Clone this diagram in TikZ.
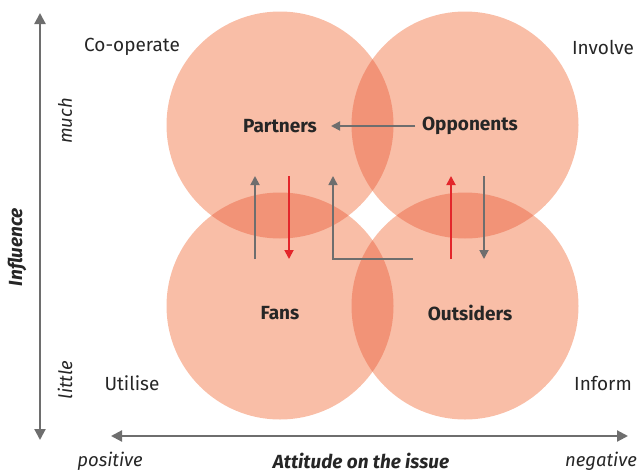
\documentclass[tikz,border=0pt]{standalone}
\usepackage{fontspec}
\setmainfont{Fira Sans}
\usetikzlibrary{arrows.meta}
\definecolor{bublight}{HTML}{F9BEA7}
\definecolor{bubdark}{HTML}{F29377}
\definecolor{axgray}{HTML}{6E6E6E}
\definecolor{arred}{HTML}{E3262B}
\begin{document}
\begin{tikzpicture}[x=1pt,y=-1pt,
  bubble/.style={circle,fill=bublight,minimum size=227pt,inner sep=0pt},
  axis/.style={draw=axgray,line width=2.2pt,{Triangle[width=11pt,length=11pt]}-{Triangle[width=11pt,length=11pt]}},
  grayarr/.style={draw=axgray,line width=1.8pt,-{Triangle[width=9pt,length=9pt]}},
  redarr/.style={draw=arred,line width=1.8pt,-{Triangle[width=9pt,length=9pt]}},
  group/.style={font=\fontsize{19}{21}\selectfont\bfseries,text=black!85},
  strategy/.style={font=\fontsize{19}{21}\selectfont,text=black!85},
  axlabel/.style={font=\fontsize{18.5}{21}\selectfont\itshape,text=black!85},
  axtitle/.style={font=\fontsize{19}{21}\selectfont\bfseries\itshape,text=black!85}]
\useasboundingbox (0,0) rectangle (639,474);
% circles
\node[bubble] (c1) at (280,125) {};
\node[bubble] (c2) at (465,125) {};
\node[bubble] (c3) at (280,306) {};
\node[bubble] (c4) at (465,306) {};
% overlaps
\begin{scope}\clip (280,125) circle (113.5); \fill[bubdark] (465,125) circle (113.5);\end{scope}
\begin{scope}\clip (280,125) circle (113.5); \fill[bubdark] (280,306) circle (113.5);\end{scope}
\begin{scope}\clip (465,125) circle (113.5); \fill[bubdark] (465,306) circle (113.5);\end{scope}
\begin{scope}\clip (280,306) circle (113.5); \fill[bubdark] (465,306) circle (113.5);\end{scope}
% axes
\coordinate (ytop) at (40,13);
\coordinate (ybot) at (40,440);
\coordinate (xl) at (111,436);
\coordinate (xr) at (628,436);
\draw[axis] (ybot) -- (ytop);
\draw[axis] (xl) -- (xr);
% labels
\node[group] (partners) at (280,126) {Partners};
\node[group] (opponents) at (470,126) {Opponents};
\node[group] (fans) at (280,313) {Fans};
\node[group] (outsiders) at (470,313) {Outsiders};
\node[strategy] (coop) at (132,47) {Co-operate};
\node[strategy] (involve) at (603,47) {Involve};
\node[strategy] (utilise) at (132,383) {Utilise};
\node[strategy] (inform) at (603,383) {Inform};
\node[axlabel,rotate=90] (much) at (65,121) {much};
\node[axlabel,rotate=90] (little) at (65,380) {little};
\node[axtitle,rotate=90] (influence) at (17,247) {Influence};
\node[axlabel] (positive) at (110,461) {positive};
\node[axlabel] (negative) at (601,461) {negative};
\node[axtitle] (attitude) at (361,461) {Attitude on the issue};
% inner arrows
\coordinate (h1) at (415,126);
\coordinate (h2) at (331,126);
\draw[grayarr] (h1) -- (h2);
\coordinate (a1b) at (255,259); \coordinate (a1t) at (255,176);
\draw[grayarr] (a1b) -- (a1t);
\coordinate (a2t) at (289,176); \coordinate (a2b) at (289,259);
\draw[redarr] (a2t) -- (a2b);
\coordinate (l1) at (413,259); \coordinate (l2) at (333,259); \coordinate (l3) at (333,176);
\draw[grayarr,line width=1.5pt] (l1) -- (l2) -- (l3);
\coordinate (a3b) at (451,259); \coordinate (a3t) at (451,176);
\draw[redarr] (a3b) -- (a3t);
\coordinate (a4t) at (484,176); \coordinate (a4b) at (484,259);
\draw[grayarr] (a4t) -- (a4b);
\end{tikzpicture}
\end{document}
